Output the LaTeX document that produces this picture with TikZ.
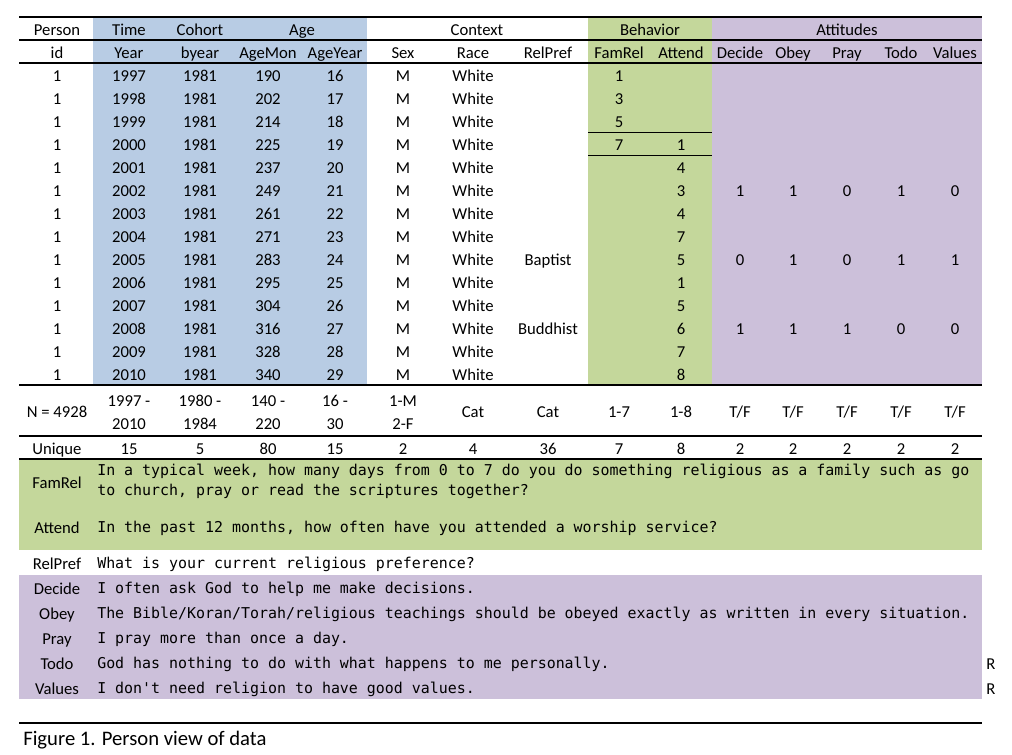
\documentclass[tikz,border=0pt]{standalone}
\usepackage{fontspec}
\setmainfont{Carlito}
\setmonofont{DejaVu Sans Mono}
\definecolor{timeblue}{HTML}{B8CCE4}
\definecolor{behavgreen}{HTML}{C4D79B}
\definecolor{attpurple}{HTML}{CCC0DA}
\begin{document}
\begin{tikzpicture}[
          x=0.75pt, y=-0.75pt,
          cell/.style={inner sep=0pt, text height=12pt, text depth=2pt, font=\fontsize{12.5}{14}\selectfont},
          question/.style={anchor=west, inner sep=0pt, text height=10pt, text depth=2pt, font=\fontsize{11.2}{15}\selectfont\ttfamily},
          rule/.style={line width=1pt},
          thinrule/.style={line width=0.75pt}
        ]
          \useasboundingbox (0, 0) rectangle (1012, 754);

          % column blocks
          \fill [timeblue]   (93, 17)  rectangle (367, 385);
          \fill [behavgreen] (588, 17) rectangle (712, 385);
          \fill [attpurple]  (712, 17) rectangle (982, 385);
          \fill [behavgreen] (19, 459) rectangle (982, 550);
          \fill [attpurple]  (19, 575) rectangle (982, 699);

          \draw [rule] (19, 17)  -- (982, 17);
          \draw [rule] (19, 40)  -- (982, 40);
          \draw [rule] (19, 63)  -- (982, 63);
          \draw [rule] (19, 385) -- (982, 385);
          \draw [rule] (19, 436) -- (982, 436);
          \draw [rule] (19, 459) -- (982, 459);
          \draw [rule] (19, 723) -- (982, 723);

          \node (hperson)  at (57, 29)  [cell] {Person};
          \node (htime)    at (129, 29) [cell] {Time};
          \node (hcohort)  at (200, 29) [cell] {Cohort};
          \node (hage)     at (302, 29) [cell] {Age};
          \node (hcontext) at (477, 29) [cell] {Context};
          \node (hbehav)   at (650, 29) [cell] {Behavior};
          \node (hattit)   at (847, 29) [cell] {Attitudes};

          \foreach \cx/\nm in {57/id, 129/Year, 200/byear, 268/AgeMon, 335/AgeYear, 403/Sex, 473/Race,
                               548/RelPref, 619/FamRel, 681/Attend, 740/Decide, 793/Obey, 847/Pray, 901/Todo, 955/Values}
            \node (var-\nm) at (\cx, 52) [cell] {\nm};

          % person-year rows
          \foreach \am [count=\i] in {190,202,214,225,237,249,261,271,283,295,304,316,328,340} {
            \pgfmathsetmacro\ry{52+23*\i}
            \pgfmathtruncatemacro\yr{1996+\i}
            \pgfmathtruncatemacro\ay{15+\i}
            \node (id-\i)      at (57, \ry)  [cell] {1};
            \node (year-\i)    at (129, \ry) [cell] {\yr};
            \node (byear-\i)   at (200, \ry) [cell] {1981};
            \node (agemon-\i)  at (268, \ry) [cell] {\am};
            \node (ageyear-\i) at (335, \ry) [cell] {\ay};
            \node (sex-\i)     at (403, \ry) [cell] {M};
            \node (race-\i)    at (473, \ry) [cell] {White};
          }
          \node (relpref-9)  at (548, 259) [cell] {Baptist};
          \node (relpref-12) at (548, 328) [cell] {Buddhist};

          \foreach \v [count=\i] in {1,3,5,7}
            \node (famrel-\i) at (619, {52+23*\i}) [cell] {\v};
          \foreach \v [count=\i from 4] in {1,4,3,4,7,5,1,5,6,7,8}
            \node (attend-\i) at (681, {52+23*\i}) [cell] {\v};
          \draw [thinrule] (588, 132.5) -- (712, 132.5);
          \draw [thinrule] (588, 155.5) -- (712, 155.5);

          \foreach \r/\a/\b/\c/\d/\e in {6/1/1/0/1/0, 9/0/1/0/1/1, 12/1/1/1/0/0} {
            \node (decide-\r) at (740, {52+23*\r}) [cell] {\a};
            \node (obey-\r)   at (793, {52+23*\r}) [cell] {\b};
            \node (pray-\r)   at (847, {52+23*\r}) [cell] {\c};
            \node (todo-\r)   at (901, {52+23*\r}) [cell] {\d};
            \node (values-\r) at (955, {52+23*\r}) [cell] {\e};
          }

          % ranges and counts
          \node (range-n) at (57, 411) [cell] {N = 4928};
          \foreach \cx/\lo/\hi/\nm in {129/1997 -/2010/year, 200/1980 -/1984/byear, 268/140 -/220/agemon,
                                       335/16 -/30/ageyear, 403/1-M/2-F/sex} {
            \node (range-\nm-a) at (\cx, 400) [cell] {\lo};
            \node (range-\nm-b) at (\cx, 423) [cell] {\hi};
          }
          \foreach \cx/\t/\nm in {473/Cat/race, 548/Cat/relpref, 619/1-7/famrel, 681/1-8/attend, 740/{T/F}/decide,
                                  793/{T/F}/obey, 847/{T/F}/pray, 901/{T/F}/todo, 955/{T/F}/values}
            \node (range-\nm) at (\cx, 411) [cell] {\t};
          \foreach \cx/\t/\nm in {57/Unique/id, 129/15/year, 200/5/byear, 268/80/agemon, 335/15/ageyear, 403/2/sex,
                                  473/4/race, 548/36/relpref, 619/7/famrel, 681/8/attend, 740/2/decide,
                                  793/2/obey, 847/2/pray, 901/2/todo, 955/2/values}
            \node (uniq-\nm) at (\cx, 448) [cell] {\t};

          % item wording
          \node (lab-famrel) at (57, 482) [cell] {FamRel};
          \node (q-famrel-a) at (97, 470) [question] {In a typical week, how many days from 0 to 7 do you do something religious as a family such as go};
          \node (q-famrel-b) at (97, 490) [question] {to church, pray or read the scriptures together?};
          \node (lab-attend) at (57, 527) [cell] {Attend};
          \node (q-attend)   at (97, 527) [question] {In the past 12 months, how often have you attended a worship service?};
          \node (lab-relpref) at (57, 563) [cell] {RelPref};
          \node (q-relpref)   at (97, 563) [question] {What is your current religious preference?};
          \node (lab-decide) at (57, 588) [cell] {Decide};
          \node (q-decide)   at (97, 588) [question] {I often ask God to help me make decisions.};
          \node (lab-obey)   at (57, 613) [cell] {Obey};
          \node (q-obey)     at (97, 613) [question] {The Bible/Koran/Torah/religious teachings should be obeyed exactly as written in every situation.};
          \node (lab-pray)   at (57, 638) [cell] {Pray};
          \node (q-pray)     at (97, 638) [question] {I pray more than once a day.};
          \node (lab-todo)   at (57, 663) [cell] {Todo};
          \node (q-todo)     at (97, 663) [question] {God has nothing to do with what happens to me personally.};
          \node (lab-values) at (57, 688) [cell] {Values};
          \node (q-values)   at (97, 688) [question] {I don't need religion to have good values.};
          \node (rev-todo)   at (991, 663) [cell] {R};
          \node (rev-values) at (991, 688) [cell] {R};

          \node (caption) at (23, 745) [anchor=base west, inner sep=0pt, font=\fontsize{15.5}{18}\selectfont] {Figure 1. Person view of data};
        \end{tikzpicture}
\end{document}
